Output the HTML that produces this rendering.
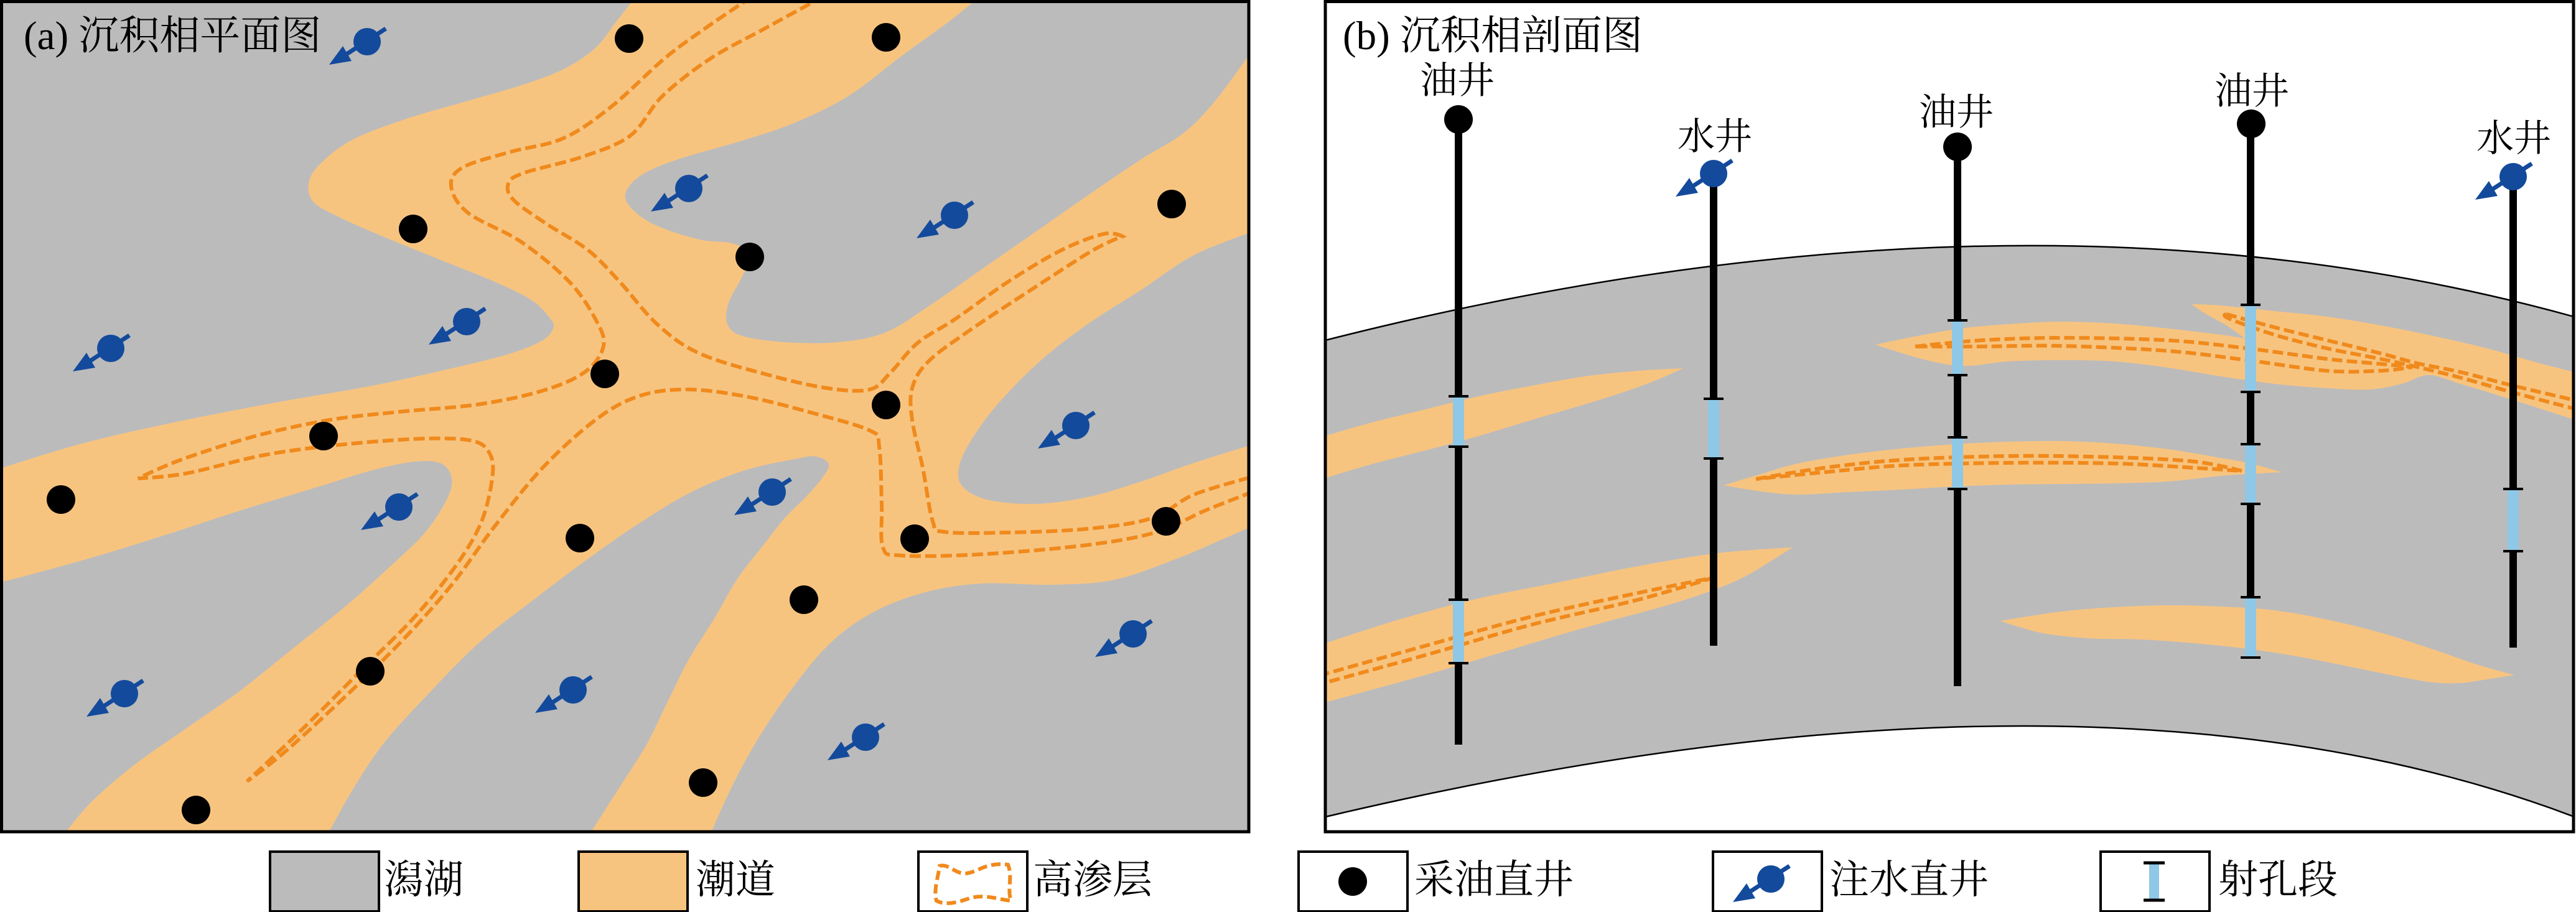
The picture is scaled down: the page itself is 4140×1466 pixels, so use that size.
<!DOCTYPE html>
<html><head><meta charset="utf-8">
<style>
html,body{margin:0;padding:0;background:#fff;width:4140px;height:1466px;overflow:hidden}
svg{display:block}
text{font-family:"Liberation Serif","Noto Serif CJK SC",serif;fill:#000}
</style></head><body>
<svg width="4140" height="1466" viewBox="0 0 4140 1466" xmlns="http://www.w3.org/2000/svg">
<defs>
<clipPath id="ca"><rect x="2" y="2" width="2005" height="1335"/></clipPath>
<clipPath id="cb"><rect x="2130" y="2" width="2006" height="1335"/></clipPath>
<g id="inj">
 <line x1="30" y1="-21" x2="-36" y2="22" stroke="#134A9C" stroke-width="7"/>
 <polygon points="-61,37 -39,7 -25,31" fill="#134A9C"/>
 <circle r="22" fill="#134A9C"/>
</g>
</defs>

<!-- ============ PANEL A ============ -->
<g clip-path="url(#ca)">
<rect x="0" y="0" width="2010" height="1340" fill="#F7C480"/>
<polygon class="sa" fill="#BBBBBB" points="-20,-20 1022,-6 991,34 957,77 906,111 838,137 752,162 650,192 564,226 513,265 496,295 504,325 547,350 615,380 701,415 795,453 855,483 885,513 889,528 872,547 821,568 735,590 598,620 427,650 256,684 128,714 -6,755"/>
<polygon class="sa" fill="#BBBBBB" points="-6,938 128,902 256,863 385,821 513,782 598,756 667,742 709,745 726,769 718,803 684,855 632,906 556,974 470,1043 385,1111 299,1171 214,1231 145,1291 100,1345 -20,1360"/>
<polygon class="sa" fill="#BBBBBB" points="525,1345 564,1274 615,1197 684,1120 769,1034 855,966 940,902 1026,842 1111,791 1197,756 1282,737 1312,734 1332,746 1321,769 1295,799 1261,833 1227,876 1184,932 1150,991 1107,1060 1073,1128 1039,1197 996,1265 945,1345"/>
<polygon class="sa" fill="#BBBBBB" points="1140,1345 1176,1265 1218,1188 1270,1111 1330,1038 1398,987 1483,953 1577,938 1689,940 1791,932 1894,897 1962,868 2015,845 2015,1345"/>
<polygon class="sa" fill="#BBBBBB" points="1575,-6 1526,34 1449,90 1364,154 1278,197 1193,226 1090,256 1030,282 1005,312 1018,338 1056,363 1124,385 1176,391 1206,409 1193,444 1171,487 1169,521 1193,540 1261,550 1347,550 1424,534 1500,487 1586,427 1671,368 1757,308 1834,256 1902,214 1953,162 2015,78 2015,-6"/>
<polygon class="sa" fill="#BBBBBB" points="2015,372 1919,410 1834,466 1748,521 1671,581 1603,650 1560,709 1541,752 1547,782 1586,803 1663,810 1748,799 1834,774 1919,744 2015,714"/>
<polygon class="sa" fill="none" stroke="#F08A1C" stroke-width="6" stroke-dasharray="18 7" points="1208,-5 1137,43 1068,94 983,171 906,222 821,244 744,269 725,299 752,342 838,389 915,453 957,513 970,556 940,598 872,628 769,650 641,662 530,675 410,701 291,739 222,769 299,761 427,731 556,714 684,705 761,709 788,731 791,769 774,838 735,906 667,991 581,1077 487,1171 397,1256 462,1205 564,1111 650,1026 726,940 795,846 872,752 957,675 1026,637 1103,626 1197,637 1299,662 1398,692 1413,718 1417,812 1419,880 1449,893 1577,891 1748,876 1860,855 1936,821 2015,790 2015,766 1919,795 1851,833 1748,850 1620,856 1518,855 1499,838 1483,752 1466,675 1466,624 1492,581 1560,530 1663,462 1757,402 1804,380 1774,376 1706,402 1620,453 1535,513 1475,551 1432,598 1398,626 1330,624 1236,603 1124,568 1056,521 996,453 945,402 877,359 825,321 817,295 842,278 936,252 1013,218 1065,154 1142,94 1227,47 1322,-5"/>
<g fill="#000">
<circle cx="1011" cy="62" r="23"/><circle cx="1424" cy="60" r="23"/>
<circle cx="664" cy="368" r="23"/><circle cx="1205" cy="413" r="23"/>
<circle cx="1883" cy="328" r="23"/><circle cx="972" cy="601" r="23"/>
<circle cx="520" cy="701" r="23"/><circle cx="1424" cy="651" r="23"/>
<circle cx="98" cy="803" r="23"/><circle cx="932" cy="865" r="23"/>
<circle cx="1470" cy="866" r="23"/><circle cx="1874" cy="838" r="23"/>
<circle cx="1292" cy="964" r="23"/><circle cx="595" cy="1079" r="23"/>
<circle cx="1130" cy="1258" r="23"/><circle cx="315" cy="1302" r="23"/>
</g>
<use href="#inj" transform="translate(590,67)"/>
<use href="#inj" transform="translate(1107,303)"/>
<use href="#inj" transform="translate(1534,346)"/>
<use href="#inj" transform="translate(750,517)"/>
<use href="#inj" transform="translate(178,560)"/>
<use href="#inj" transform="translate(641,815)"/>
<use href="#inj" transform="translate(1241,791)"/>
<use href="#inj" transform="translate(1729,684)"/>
<use href="#inj" transform="translate(1821,1019)"/>
<use href="#inj" transform="translate(200,1115)"/>
<use href="#inj" transform="translate(921,1109)"/>
<use href="#inj" transform="translate(1391,1185)"/>
<text x="38" y="79" font-size="65">(a) 沉积相平面图</text>
</g>
<rect x="2.5" y="2.5" width="2004.5" height="1334.5" fill="none" stroke="#000" stroke-width="5"/>

<!-- ============ PANEL B ============ -->
<g clip-path="url(#cb)">
<rect x="2130" y="2" width="2006" height="1335" fill="#fff"/>
<path d="M2126,548 Q3248,262 4140,510 L4140,1314 Q3368,1020 2126,1314 Z" fill="#BBBBBB" stroke="#000" stroke-width="2.5"/>
<polygon class="sb" fill="#F7C480" points="2115,705 2205,679 2291,658 2376,637 2462,620 2547,605 2633,596 2705,592 2667,609 2616,628 2547,650 2462,675 2376,701 2291,724 2205,746 2115,773"/>
<polygon class="sb" fill="#F7C480" points="2115,1039 2248,996 2376,962 2505,936 2633,910 2761,889 2881,880 2846,902 2804,927 2752,949 2676,974 2547,1009 2419,1047 2291,1085 2115,1133"/>
<polygon class="sb" fill="#F7C480" points="3014,554 3082,540 3159,527 3244,520 3313,517 3398,520 3484,528 3569,538 3608,544 3578,523 3544,504 3522,489 3569,491 3655,500 3740,509 3826,523 3911,540 3997,560 4082,584 4145,600 4145,677 4039,643 3954,617 3903,603 3860,617 3809,626 3740,624 3655,617 3569,605 3484,591 3398,581 3313,579 3227,581 3167,588 3125,585 3074,573"/>
<polygon class="sb" fill="#F7C480" points="2770,780 2830,762 2889,745 2971,731 3056,721 3142,714 3227,710 3313,709 3398,713 3484,722 3569,736 3612,744 3667,759 3612,762 3569,765 3484,774 3398,777 3313,778 3227,779 3142,782 3056,787 2971,791 2889,795 2830,790"/>
<polygon class="sb" fill="#F7C480" points="3215,998 3313,983 3398,976 3484,973 3569,975 3655,981 3740,996 3826,1017 3911,1044 3980,1068 4041,1085 3997,1092 3954,1098 3911,1097 3868,1090 3783,1073 3697,1056 3612,1043 3526,1034 3441,1028 3356,1026 3279,1017"/>
<g fill="none" stroke="#F08A1C" stroke-width="6" stroke-dasharray="17 7">
<polygon class="sb" points="2120,1086 2291,1038 2462,991 2633,953 2752,929 2633,964 2462,1004 2291,1053 2120,1100"/>
<polygon class="sb" points="3078,557 3185,547 3313,543 3484,547 3612,560 3740,577 3826,585 3877,590 3826,596 3740,596 3612,579 3484,564 3313,556 3185,557"/>
<polygon class="sb" points="3578,505 3655,526 3740,547 3826,568 3885,584 3954,598 4039,620 4145,645 4145,659 4039,631 3954,607 3885,590 3826,577 3740,560 3655,538 3582,512"/>
<polygon class="sb" points="2822,770 2932,752 3060,739 3231,733 3398,735 3527,742 3603,757 3527,752 3398,745 3231,744 3060,748 2932,759"/>
</g>
<!-- wells -->
<g stroke="#000" stroke-width="12">
<line x1="2344" y1="192" x2="2344" y2="1197"/>
<line x1="2754" y1="279" x2="2754" y2="1038"/>
<line x1="3146" y1="236" x2="3146" y2="1103"/>
<line x1="3617" y1="199" x2="3617" y2="1057"/>
<line x1="4039" y1="284" x2="4039" y2="1041"/>
</g>
<g fill="#8EC8E6">
<rect x="2335" y="637" width="18" height="81"/>
<rect x="2335" y="964" width="18" height="102"/>
<rect x="2745" y="641" width="18" height="96"/>
<rect x="3137" y="515" width="18" height="88"/>
<rect x="3137" y="703" width="18" height="83"/>
<rect x="3608" y="490" width="18" height="140"/>
<rect x="3608" y="714" width="18" height="96"/>
<rect x="3608" y="960" width="18" height="97"/>
<rect x="4030" y="786" width="18" height="100"/>
</g>
<g stroke="#000" stroke-width="4">
<line x1="2328" y1="637" x2="2360" y2="637"/><line x1="2328" y1="718" x2="2360" y2="718"/>
<line x1="2328" y1="964" x2="2360" y2="964"/><line x1="2328" y1="1066" x2="2360" y2="1066"/>
<line x1="2738" y1="641" x2="2770" y2="641"/><line x1="2738" y1="737" x2="2770" y2="737"/>
<line x1="3130" y1="515" x2="3162" y2="515"/><line x1="3130" y1="603" x2="3162" y2="603"/>
<line x1="3130" y1="703" x2="3162" y2="703"/><line x1="3130" y1="786" x2="3162" y2="786"/>
<line x1="3601" y1="490" x2="3633" y2="490"/><line x1="3601" y1="630" x2="3633" y2="630"/>
<line x1="3601" y1="714" x2="3633" y2="714"/><line x1="3601" y1="810" x2="3633" y2="810"/>
<line x1="3601" y1="960" x2="3633" y2="960"/><line x1="3601" y1="1057" x2="3633" y2="1057"/>
<line x1="4023" y1="786" x2="4055" y2="786"/><line x1="4023" y1="886" x2="4055" y2="886"/>
</g>
<g fill="#000">
<circle cx="2344" cy="192" r="23"/>
<circle cx="3146" cy="236" r="23"/>
<circle cx="3618" cy="199" r="23"/>
</g>
<use href="#inj" transform="translate(2754,279)"/>
<use href="#inj" transform="translate(4039,284)"/>
<g font-size="60" text-anchor="middle">
<text x="2342" y="150">油井</text>
<text x="2756" y="240">水井</text>
<text x="3144" y="201">油井</text>
<text x="3619" y="167">油井</text>
<text x="4040" y="243">水井</text>
</g>
<text x="2158" y="79" font-size="65">(b) 沉积相剖面图</text>
</g>
<rect x="2130" y="2.5" width="2006" height="1334.5" fill="none" stroke="#000" stroke-width="5"/>

<!-- ============ LEGEND ============ -->
<g stroke="#000" stroke-width="4">
<rect x="434" y="1369" width="175" height="96" fill="#BBBBBB"/>
<rect x="930" y="1369" width="175" height="96" fill="#F7C480"/>
<rect x="1476" y="1369" width="175" height="96" fill="#fff"/>
<rect x="2087" y="1369" width="175" height="96" fill="#fff"/>
<rect x="2753" y="1369" width="175" height="96" fill="#fff"/>
<rect x="3376" y="1369" width="175" height="96" fill="#fff"/>
</g>
<path d="M1510,1392 C1525,1388 1535,1405 1552,1404 C1570,1403 1585,1385 1620,1390 C1628,1410 1618,1430 1625,1448 C1600,1445 1580,1436 1555,1445 C1540,1450 1520,1456 1505,1448 C1500,1430 1508,1410 1510,1392 Z" fill="none" stroke="#F08A1C" stroke-width="6" stroke-dasharray="15 7"/>
<circle cx="2174" cy="1417" r="23" fill="#000"/>
<use href="#inj" transform="translate(2846,1413)"/>
<rect x="3454" y="1387" width="16" height="60" fill="#8EC8E6"/>
<line x1="3445" y1="1387" x2="3479" y2="1387" stroke="#000" stroke-width="5"/>
<line x1="3445" y1="1447" x2="3479" y2="1447" stroke="#000" stroke-width="5"/>
<g font-size="64">
<text x="617" y="1436">潟湖</text>
<text x="1118" y="1436">潮道</text>
<text x="1660" y="1436">高渗层</text>
<text x="2273" y="1436">采油直井</text>
<text x="2940" y="1436">注水直井</text>
<text x="3565" y="1436">射孔段</text>
</g>
</svg>
<script>
(function(){
var B={sa:[0,0,2009,1339],sb:[2128,0,4138,1339]};
var NS='http://www.w3.org/2000/svg';
var els=Array.prototype.slice.call(document.querySelectorAll('polygon.sa,polygon.sb'));
els.forEach(function(el){
 var b=B[el.getAttribute('class')];
 var nums=el.getAttribute('points').trim().split(/[\s,]+/).map(Number);
 var P=[];for(var i=0;i+1<nums.length;i+=2)P.push([nums[i],nums[i+1]]);
 var n=P.length,C=[],T=[];
 for(var i=0;i<n;i++){
  var p=P[i],a=P[(i-1+n)%n],c=P[(i+1)%n];
  var out=p[0]<b[0]||p[1]<b[1]||p[0]>b[2]||p[1]>b[3];
  var x1=a[0]-p[0],y1=a[1]-p[1],x2=c[0]-p[0],y2=c[1]-p[1];
  var cs=(x1*x2+y1*y2)/(Math.sqrt(x1*x1+y1*y1)*Math.sqrt(x2*x2+y2*y2)+1e-9);
  C.push(out||cs>0.5);
 }
 for(var i=0;i<n;i++){
  if(C[i]){T.push([0,0]);continue;}
  var a=P[(i-1+n)%n],c=P[(i+1)%n];
  T.push([(c[0]-a[0])/2,(c[1]-a[1])/2]);
 }
 var d='M'+P[0][0]+','+P[0][1];
 for(var i=0;i<n;i++){
  var j=(i+1)%n;
  if(C[i]&&C[j]){d+='L'+P[j][0]+','+P[j][1];continue;}
  d+='C'+(P[i][0]+T[i][0]/3).toFixed(1)+','+(P[i][1]+T[i][1]/3).toFixed(1)+' '+(P[j][0]-T[j][0]/3).toFixed(1)+','+(P[j][1]-T[j][1]/3).toFixed(1)+' '+P[j][0]+','+P[j][1];
 }
 d+='Z';
 var pa=document.createElementNS(NS,'path');
 for(var k=0;k<el.attributes.length;k++){var at=el.attributes[k];if(at.name!=='points'&&at.name!=='class')pa.setAttribute(at.name,at.value);}
 pa.setAttribute('d',d);
 el.parentNode.replaceChild(pa,el);
});
})();
</script>
</body></html>
